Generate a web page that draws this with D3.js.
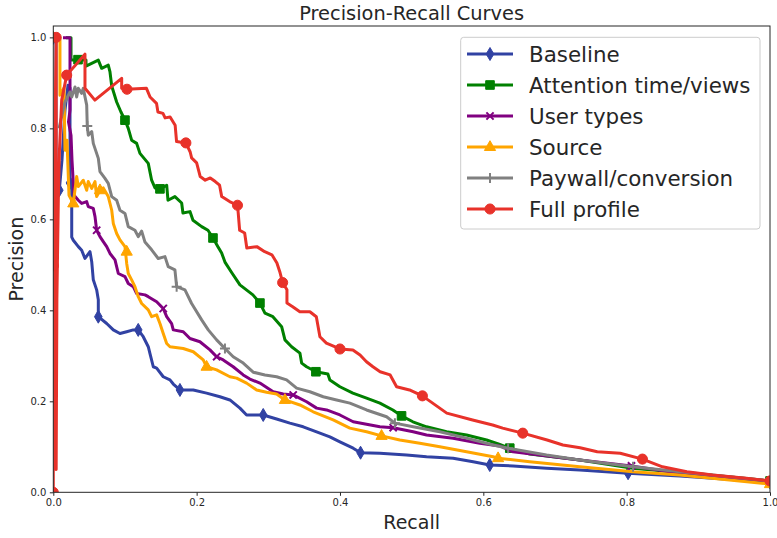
<!DOCTYPE html>
<html>
<head>
<meta charset="utf-8">
<script src="https://cdn.jsdelivr.net/npm/d3@7/dist/d3.min.js"></script>
<style>
  body { margin: 0; background: #fff; }
  svg text { font-family: "DejaVu Sans", sans-serif; fill: #262626; }
</style>
</head>
<body>
<div id="chart"></div>
<script>
// Precision-recall curves, one [recall, precision] list per feature set
var seriesNames = ["Baseline", "Attention time/views", "User types", "Source", "Paywall/conversion", "Full profile"];

var baseline = [[0,0.999],[0.0038,0.999],[0.0038,0.664],[0.0084,0.664],[0.0121,0.730],[0.0163,0.840],[0.0205,0.895],[0.0233,0.889],[0.0233,0.680],[0.0257,0.680],[0.0257,0.561],[0.0279,0.554],[0.0349,0.540],[0.0396,0.532],[0.0442,0.514],[0.0512,0.529],[0.0536,0.507],[0.0558,0.467],[0.0605,0.445],[0.0628,0.423],[0.0628,0.386],[0.0745,0.371],[0.0837,0.357],[0.0930,0.349],[0.1024,0.353],[0.1116,0.357],[0.1185,0.357],[0.1255,0.342],[0.1325,0.320],[0.1349,0.305],[0.1395,0.276],[0.1442,0.273],[0.1534,0.254],[0.1628,0.247],[0.1674,0.238],[0.1767,0.225],[0.1953,0.225],[0.2139,0.218],[0.2325,0.210],[0.2464,0.203],[0.2604,0.185],[0.2697,0.170],[0.2929,0.170],[0.3116,0.161],[0.3301,0.152],[0.3487,0.144],[0.3674,0.133],[0.3859,0.122],[0.3999,0.111],[0.4184,0.097],[0.4287,0.087],[0.4557,0.086],[0.4929,0.082],[0.5208,0.078],[0.5579,0.075],[0.5858,0.067],[0.6090,0.060],[0.6416,0.058],[0.6882,0.053],[0.7346,0.049],[0.8020,0.042],[0.8741,0.036],[1.0,0.022]];
var baselineMarks = [[0,0.999],[0.0084,0.664],[0.0233,0.680],[0.0628,0.386],[0.1185,0.357],[0.1767,0.225],[0.2929,0.170],[0.4287,0.087],[0.6090,0.060],[0.8020,0.042],[1.0,0.022]];

var attention = [[0.0177,0.999],[0.0247,0.999],[0.0247,0.950],[0.0456,0.950],[0.0456,0.937],[0.0628,0.950],[0.0675,0.932],[0.0767,0.939],[0.0791,0.924],[0.0815,0.893],[0.0884,0.858],[0.0944,0.836],[0.1000,0.818],[0.1046,0.800],[0.1093,0.774],[0.1163,0.767],[0.1209,0.745],[0.1325,0.723],[0.1372,0.686],[0.1419,0.669],[0.1488,0.667],[0.1582,0.675],[0.1600,0.642],[0.1697,0.650],[0.1791,0.636],[0.1809,0.614],[0.1907,0.617],[0.1949,0.598],[0.2070,0.584],[0.2158,0.576],[0.2228,0.559],[0.2297,0.540],[0.2349,0.526],[0.2395,0.506],[0.2493,0.482],[0.2604,0.456],[0.2785,0.434],[0.2883,0.416],[0.2953,0.394],[0.3064,0.386],[0.3186,0.364],[0.3232,0.335],[0.3325,0.320],[0.3441,0.306],[0.3465,0.284],[0.3534,0.276],[0.3664,0.265],[0.3831,0.260],[0.3859,0.247],[0.3999,0.232],[0.4180,0.218],[0.4371,0.207],[0.4557,0.196],[0.4738,0.181],[0.4859,0.168],[0.5017,0.155],[0.5208,0.144],[0.5487,0.133],[0.5766,0.126],[0.6045,0.115],[0.6220,0.106],[0.6369,0.097],[0.6648,0.084],[0.7346,0.071],[0.8085,0.053],[0.9019,0.040],[1.0,0.025]];
var attentionMarks = [[0.0345,0.951],[0.1000,0.818],[0.1488,0.667],[0.2228,0.559],[0.2883,0.416],[0.3664,0.265],[0.4859,0.168],[0.6369,0.097],[1.0,0.025]];

var userTypes = [[0.0135,0.999],[0.0233,0.999],[0.0233,0.840],[0.0212,0.814],[0.0247,0.785],[0.0261,0.730],[0.0289,0.653],[0.0349,0.642],[0.0396,0.635],[0.0466,0.639],[0.0488,0.628],[0.0558,0.624],[0.0582,0.606],[0.0605,0.576],[0.0651,0.562],[0.0697,0.551],[0.0745,0.540],[0.0791,0.525],[0.0861,0.511],[0.0907,0.481],[0.1000,0.474],[0.1046,0.459],[0.1116,0.452],[0.1163,0.437],[0.1279,0.434],[0.1325,0.430],[0.1442,0.419],[0.1534,0.404],[0.1582,0.386],[0.1651,0.371],[0.1674,0.357],[0.1813,0.353],[0.1907,0.338],[0.2046,0.331],[0.2186,0.313],[0.2279,0.298],[0.2371,0.291],[0.2510,0.276],[0.2650,0.258],[0.2743,0.249],[0.2883,0.240],[0.3068,0.221],[0.3208,0.216],[0.3347,0.214],[0.3534,0.199],[0.3674,0.185],[0.3813,0.181],[0.3999,0.170],[0.4184,0.155],[0.4557,0.144],[0.4742,0.142],[0.5021,0.133],[0.5208,0.126],[0.5579,0.119],[0.5951,0.108],[0.6230,0.102],[0.6416,0.089],[0.7346,0.071],[0.8067,0.058],[0.8741,0.042],[1.0,0.025]];
var userTypesMarks = [[0.0605,0.576],[0.1534,0.404],[0.2279,0.298],[0.3347,0.214],[0.4742,0.142],[0.8067,0.058]];

var source = [[0,0.999],[0.0093,0.999],[0.0093,0.873],[0.0149,0.889],[0.0163,0.752],[0.0191,0.774],[0.0219,0.653],[0.0279,0.635],[0.0326,0.694],[0.0349,0.672],[0.0418,0.686],[0.0466,0.664],[0.0488,0.683],[0.0536,0.668],[0.0582,0.683],[0.0605,0.650],[0.0651,0.664],[0.0697,0.669],[0.0767,0.650],[0.0815,0.620],[0.0837,0.591],[0.0884,0.569],[0.0930,0.555],[0.1000,0.540],[0.1024,0.503],[0.1046,0.481],[0.1093,0.467],[0.1139,0.452],[0.1185,0.430],[0.1233,0.415],[0.1325,0.401],[0.1372,0.386],[0.1442,0.390],[0.1488,0.371],[0.1534,0.349],[0.1582,0.327],[0.1628,0.320],[0.1813,0.316],[0.1953,0.309],[0.2092,0.291],[0.2139,0.276],[0.2279,0.269],[0.2464,0.254],[0.2558,0.251],[0.2697,0.240],[0.2837,0.225],[0.2976,0.220],[0.3116,0.216],[0.3232,0.203],[0.3441,0.192],[0.3626,0.177],[0.3905,0.159],[0.4138,0.141],[0.4371,0.133],[0.4580,0.124],[0.4835,0.115],[0.5114,0.108],[0.5393,0.100],[0.5766,0.089],[0.6137,0.078],[0.6206,0.075],[0.6648,0.067],[0.7346,0.056],[0.8089,0.045],[0.8741,0.038],[1.0,0.018]];
var sourceMarks = [[0,0.999],[0.0279,0.635],[0.0651,0.664],[0.1024,0.529],[0.2139,0.276],[0.3232,0.203],[0.4580,0.124],[0.6206,0.075],[1.0,0.018]];

var paywall = [[0.0080,0.800],[0.0163,0.858],[0.0233,0.880],[0.0257,0.869],[0.0303,0.891],[0.0326,0.869],[0.0349,0.888],[0.0396,0.877],[0.0418,0.888],[0.0466,0.851],[0.0474,0.805],[0.0488,0.785],[0.0536,0.793],[0.0558,0.767],[0.0628,0.734],[0.0651,0.705],[0.0721,0.690],[0.0767,0.679],[0.0815,0.650],[0.0884,0.642],[0.0930,0.620],[0.1000,0.613],[0.1046,0.584],[0.1139,0.576],[0.1185,0.562],[0.1233,0.574],[0.1279,0.550],[0.1372,0.533],[0.1464,0.514],[0.1558,0.518],[0.1604,0.496],[0.1697,0.489],[0.1721,0.452],[0.1837,0.445],[0.1930,0.415],[0.2070,0.379],[0.2162,0.357],[0.2279,0.335],[0.2395,0.316],[0.2510,0.298],[0.2650,0.284],[0.2789,0.264],[0.2953,0.258],[0.3116,0.254],[0.3255,0.247],[0.3395,0.229],[0.3580,0.221],[0.3766,0.210],[0.3953,0.203],[0.4138,0.196],[0.4371,0.181],[0.4650,0.166],[0.4766,0.152],[0.5021,0.144],[0.5393,0.133],[0.5766,0.119],[0.6137,0.104],[0.6346,0.097],[0.6882,0.082],[0.7346,0.071],[0.8089,0.056],[0.8741,0.045],[1.0,0.025]];
var paywallMarks = [[0.0474,0.805],[0.1721,0.452],[0.2395,0.316],[0.4766,0.152],[0.6346,0.097],[0.8089,0.056]];

var fullProfile = [[0,0],[0,0.498],[0.004,1.0],[0.004,0.05],[0.005,0.423],[0.007,0.642],[0.0086,0.752],[0.0117,0.862],[0.0187,0.917],[0.0442,0.963],[0.0442,0.888],[0.058,0.862],[0.0954,0.910],[0.0954,0.888],[0.1028,0.886],[0.130,0.888],[0.135,0.869],[0.144,0.855],[0.146,0.836],[0.153,0.833],[0.156,0.823],[0.163,0.825],[0.170,0.807],[0.172,0.771],[0.185,0.768],[0.191,0.748],[0.193,0.735],[0.200,0.724],[0.205,0.694],[0.212,0.686],[0.219,0.691],[0.226,0.683],[0.232,0.675],[0.235,0.650],[0.246,0.639],[0.257,0.631],[0.258,0.614],[0.260,0.576],[0.267,0.570],[0.270,0.537],[0.284,0.540],[0.295,0.529],[0.305,0.522],[0.312,0.504],[0.316,0.485],[0.320,0.461],[0.326,0.445],[0.326,0.416],[0.334,0.408],[0.344,0.397],[0.358,0.397],[0.367,0.386],[0.372,0.342],[0.381,0.328],[0.400,0.315],[0.418,0.313],[0.428,0.302],[0.437,0.287],[0.446,0.276],[0.456,0.265],[0.470,0.258],[0.479,0.232],[0.497,0.225],[0.515,0.212],[0.549,0.174],[0.585,0.159],[0.613,0.148],[0.627,0.141],[0.655,0.130],[0.689,0.115],[0.711,0.104],[0.735,0.098],[0.759,0.089],[0.791,0.086],[0.822,0.073],[0.850,0.056],[0.884,0.045],[0.920,0.038],[0.967,0.031],[1.0,0.025]];
var fullProfileMarks = [[0,0],[0,0.498],[0.004,1.0],[0.0187,0.917],[0.1028,0.886],[0.185,0.768],[0.257,0.631],[0.320,0.461],[0.400,0.315],[0.515,0.212],[0.655,0.130],[0.822,0.073],[1.0,0.025]];

var xTicks = [0, 0.2, 0.4, 0.6, 0.8, 1.0];
var yTicks = [0, 0.2, 0.4, 0.6, 0.8, 1.0];

// styling, kept apart from the data
var colors = ["#3142a3", "#008000", "#800080", "#ffa500", "#808080", "#e8322a"];
var shapes = ["diamond", "square", "x", "triangle", "plus", "circle"];

var series = seriesNames.map(function(name, i) {
  return {
    name: name,
    line: [baseline, attention, userTypes, source, paywall, fullProfile][i],
    marks: [baselineMarks, attentionMarks, userTypesMarks, sourceMarks, paywallMarks, fullProfileMarks][i],
    color: colors[i],
    shape: shapes[i]
  };
});

var width = 777, height = 538;
// plot box (note: "top" is a reserved window property, so use other names)
var plotLeft = 53.3, plotRight = 770, plotTop = 26, plotBottom = 492.3;

var svg = d3.select("#chart").append("svg")
    .attr("width", width)
    .attr("height", height);

var x = d3.scaleLinear().domain([0, 1]).range([plotLeft, plotRight]);
var y = d3.scaleLinear().domain([0, 1.025]).range([plotBottom, plotTop]);

svg.append("clipPath").attr("id", "plotclip")
  .append("rect")
    .attr("x", plotLeft).attr("y", plotTop)
    .attr("width", plotRight - plotLeft).attr("height", plotBottom - plotTop);

// marker path around (0,0)
function markerPath(shape) {
  switch (shape) {
    case "diamond": return "M0,-6.5L3.8,0L0,6.5L-3.8,0Z";
    case "square": return "M-4.3,-4.3H4.3V4.3H-4.3Z";
    case "triangle": return "M0,-6.3L5.6,3.5H-5.6Z";
    case "circle": return d3.symbol(d3.symbolCircle, 80)();
    case "x": return "M-3.6,-3.6L3.6,3.6M-3.6,3.6L3.6,-3.6";
    case "plus": return "M-5,0H5M0,-5V5";
  }
}

function drawMarker(sel, s) {
  var open = (s.shape === "x" || s.shape === "plus");
  sel.append("path")
    .attr("d", markerPath(s.shape))
    .attr("fill", open ? "none" : s.color)
    .attr("stroke", s.color)
    .attr("stroke-width", open ? 2 : 1);
}

/***** Lines *****/
var line = d3.line()
    .x(function(d) { return x(d[0]); })
    .y(function(d) { return y(d[1]); });

var plot = svg.append("g").attr("clip-path", "url(#plotclip)");

series.forEach(function(s) {
  var g = plot.append("g");
  g.append("path")
    .datum(s.line)
    .attr("d", line)
    .attr("fill", "none")
    .attr("stroke", s.color)
    .attr("stroke-width", 3)
    .attr("stroke-linejoin", "round");
  g.selectAll("g.mark")
    .data(s.marks)
    .enter().append("g")
    .attr("class", "mark")
    .attr("transform", function(d) { return "translate(" + x(d[0]) + "," + y(d[1]) + ")"; })
    .each(function() { drawMarker(d3.select(this), s); });
});

/***** Axes *****/
var xAxis = d3.axisBottom(x).tickValues(xTicks).tickFormat(d3.format(".1f")).tickSize(3.5).tickPadding(3.5);
var yAxis = d3.axisLeft(y).tickValues(yTicks).tickFormat(d3.format(".1f")).tickSize(3.5).tickPadding(3.5);

var gx = svg.append("g").attr("transform", "translate(0," + plotBottom + ")").call(xAxis);
var gy = svg.append("g").attr("transform", "translate(" + plotLeft + ",0)").call(yAxis);
[gx, gy].forEach(function(g) {
  g.select(".domain").remove();
  g.selectAll("text").attr("font-size", 10).attr("fill", "#262626");
  g.selectAll("line").attr("stroke", "#262626");
});

svg.append("rect")
    .attr("x", plotLeft).attr("y", plotTop)
    .attr("width", plotRight - plotLeft).attr("height", plotBottom - plotTop)
    .attr("fill", "none")
    .attr("stroke", "#262626")
    .attr("stroke-width", 1);

svg.append("text")
    .attr("x", (plotLeft + plotRight) / 2).attr("y", 20)
    .attr("text-anchor", "middle")
    .attr("font-size", 19.4)
    .text("Precision-Recall Curves");

svg.append("text")
    .attr("x", (plotLeft + plotRight) / 2).attr("y", 529)
    .attr("text-anchor", "middle")
    .attr("font-size", 19)
    .text("Recall");

svg.append("text")
    .attr("transform", "translate(22.5," + ((plotTop + plotBottom) / 2) + ") rotate(-90)")
    .attr("text-anchor", "middle")
    .attr("font-size", 19)
    .text("Precision");

/***** Legend *****/
var legend = svg.append("g");
legend.append("rect")
    .attr("x", 460.7).attr("y", 37.3)
    .attr("width", 299.3).attr("height", 191.7)
    .attr("rx", 3)
    .attr("fill", "#fff").attr("fill-opacity", 0.8)
    .attr("stroke", "#cccccc");

series.forEach(function(s, i) {
  var row = legend.append("g").attr("transform", "translate(0," + (54 + i * 31) + ")");
  row.append("line")
    .attr("x1", 467).attr("x2", 513)
    .attr("stroke", s.color).attr("stroke-width", 3);
  drawMarker(row.append("g").attr("transform", "translate(490,0)"), s);
  row.append("text")
    .attr("x", 529).attr("y", 0)
    .attr("dy", "0.35em")
    .attr("font-size", 21.4)
    .text(s.name);
});
</script>
</body>
</html>
